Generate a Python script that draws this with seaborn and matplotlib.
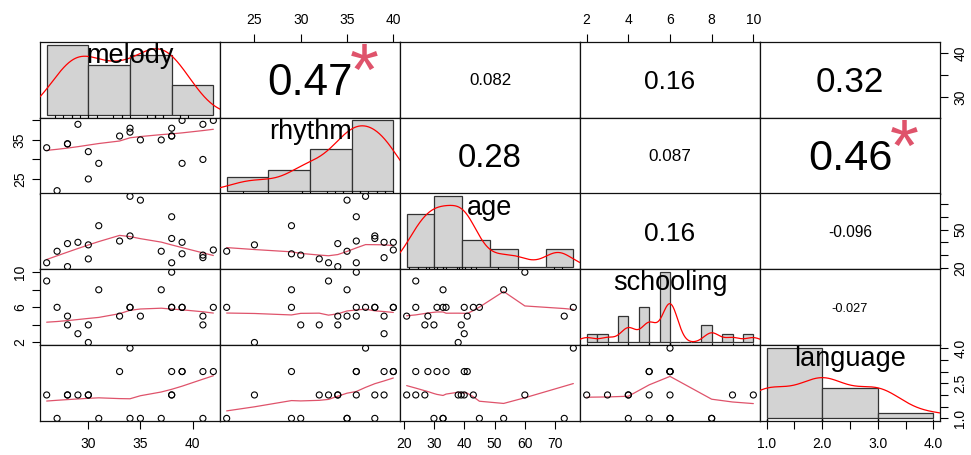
import numpy as np
import pandas as pd
import matplotlib
matplotlib.use("Agg")
import matplotlib.pyplot as plt
import seaborn as sns
from matplotlib.textpath import TextPath
from matplotlib.font_manager import FontProperties

# ---------------- data ----------------
variables = ["melody", "rhythm", "age", "schooling", "language"]
melody    = [26, 27, 28, 28, 29, 30, 30, 31, 33, 34, 34, 35, 37, 38, 38, 38, 39, 39, 41, 41, 42]
rhythm    = [33, 22, 34, 34, 39, 32, 25, 29, 36, 37, 38, 35, 35, 38, 36, 36, 40, 29, 39, 30, 40]
age       = [24, 33, 39, 21, 40, 27, 38, 53, 41, 76, 45, 73, 33, 43, 60, 24, 40, 31, 28, 30, 34]
schooling = [9, 6, 4, 5, 3, 4, 2, 8, 5, 6, 6, 5, 8, 6, 10, 6, 6, 6, 5, 4, 6]
language  = [2, 1, 2, 2, 2, 2, 2, 1, 3, 4, 1, 1, 1, 2, 2, 3, 3, 3, 3, 1, 3]

melody_breaks    = [25, 30, 35, 40, 45]
rhythm_breaks    = [20, 25, 30, 35, 40]
age_breaks       = [20, 30, 40, 50, 60, 70, 80]
schooling_breaks = [2.0, 2.5, 3.0, 3.5, 4.0, 4.5, 5.0, 5.5, 6.0, 6.5, 7.0, 7.5, 8.0, 8.5, 9.0, 9.5, 10.0]
language_breaks  = [1, 2, 3, 4]

cor_pairs  = [(0, 1), (0, 2), (0, 3), (0, 4), (1, 2), (1, 3), (1, 4), (2, 3), (2, 4), (3, 4)]
cor_labels = ["0.47", "0.082", "0.16", "0.32", "0.28", "0.087", "0.46", "0.16", "-0.096", "-0.027"]
cor_stars  = ["*", "", "", "", "", "", "*", "", "", ""]

melody_ticks    = [30, 35, 40]
rhythm_ticks    = [25, 30, 35, 40]
age_ticks       = [20, 30, 40, 50, 60, 70]
schooling_ticks = [2, 4, 6, 8, 10]
language_ticks  = [1.0, 1.5, 2.0, 2.5, 3.0, 3.5, 4.0]

bottom_labels = {0: ["30", "35", "40"],
                 2: ["20", "30", "40", "50", "60", "70"],
                 4: ["1.0", "", "2.0", "", "3.0", "", "4.0"]}
top_labels = {1: ["25", "30", "35", "40"],
              3: ["2", "4", "6", "8", "10"]}
right_labels = {0: ["30", "", "40"],
                2: ["20", "", "", "50", "", ""],
                4: ["1.0", "", "", "2.5", "", "", "4.0"]}
left_labels = {1: ["25", "", "35", ""],
               3: ["2", "", "6", "", "10"]}

df = pd.DataFrame({"melody": melody, "rhythm": rhythm, "age": age,
                   "schooling": schooling, "language": language})
breaks = {"melody": melody_breaks, "rhythm": rhythm_breaks, "age": age_breaks,
          "schooling": schooling_breaks, "language": language_breaks}
ticks = {"melody": melody_ticks, "rhythm": rhythm_ticks, "age": age_ticks,
         "schooling": schooling_ticks, "language": language_ticks}

# ---------------- style ----------------
sns.set_style("white")
plt.rcParams["font.family"] = ["Liberation Sans", "DejaVu Sans"]
FP = FontProperties(family="Liberation Sans")

FIG_W, FIG_H, DPI = 971, 455, 100
P_LEFT, P_TOP, P_W, P_H = 40.0, 41.7, 180.0, 75.9
SMOOTH_COL = "#DF536B"
AX_FS = 10
LAB_FS = 19.5

fig = plt.figure(figsize=(FIG_W / DPI, FIG_H / DPI), dpi=DPI)
fig.patch.set_facecolor("white")
renderer = fig.canvas.get_renderer()


def ext_lim(v):
    lo, hi = float(np.min(v)), float(np.max(v))
    d = 0.04 * (hi - lo)
    return lo - d, hi + d


def lowess(x, y, f=2 / 3, nsteps=3):
    x = np.asarray(x, float)
    y = np.asarray(y, float)
    o = np.argsort(x, kind="mergesort")
    x, y = x[o], y[o]
    n = len(x)
    ns = max(2, min(n, int(f * n + 1e-7)))
    delta = 0.01 * (x[-1] - x[0])
    rw = np.ones(n)
    ys = np.zeros(n)
    rng = x[-1] - x[0]

    def lowest(xs, nleft, nright, userw):
        h = max(xs - x[nleft], x[nright] - xs)
        h9, h1 = 0.999 * h, 0.001 * h
        w = np.zeros(n)
        a = 0.0
        j = nleft
        while j < n:
            r = abs(x[j] - xs)
            if r <= h9:
                w[j] = 1.0 if r <= h1 else (1 - (r / h) ** 3) ** 3
                if userw:
                    w[j] *= rw[j]
                a += w[j]
            elif x[j] > xs:
                break
            j += 1
        nrt = j - 1
        if a <= 0:
            return None
        idx = np.arange(nleft, nrt + 1)
        ww = w[idx] / a
        if h > 0:
            aa = np.sum(ww * x[idx])
            b = xs - aa
            c = np.sum(ww * (x[idx] - aa) ** 2)
            if np.sqrt(c) > 0.001 * rng:
                b /= c
                ww = ww * (b * (x[idx] - aa) + 1.0)
        return float(np.sum(ww * y[idx]))

    it = 1
    while it <= nsteps + 1:
        nleft, nright, last, i = 0, ns - 1, -1, 0
        while True:
            if nright < n - 1:
                d1 = x[i] - x[nleft]
                d2 = x[nright + 1] - x[i]
                if d1 > d2:
                    nleft += 1
                    nright += 1
                    continue
            v = lowest(x[i], nleft, nright, it > 1)
            ys[i] = y[i] if v is None else v
            if last < i - 1:
                denom = x[i] - x[last]
                for j in range(last + 1, i):
                    al = (x[j] - x[last]) / denom
                    ys[j] = al * ys[i] + (1 - al) * ys[last]
            last = i
            cut = x[last] + delta
            i = last + 1
            while i < n:
                if x[i] > cut:
                    break
                if x[i] == x[last]:
                    ys[i] = ys[last]
                    last = i
                i += 1
            i = max(last + 1, i - 1)
            if last >= n - 1:
                break
        res = y - ys
        sc = np.mean(np.abs(res))
        if it > nsteps:
            break
        cmad = 6.0 * np.median(np.abs(res))
        if cmad < 1e-7 * sc:
            break
        r = np.abs(res)
        rw = np.where(r <= 0.001 * cmad, 1.0,
                      np.where(r <= 0.999 * cmad, (1 - (r / cmad) ** 2) ** 2, 0.0))
        it += 1
    return x, ys


def panel_rect(i, j):
    x0 = (P_LEFT + j * P_W) / FIG_W
    y0 = 1 - (P_TOP + (i + 1) * P_H) / FIG_H
    return [x0, y0, P_W / FIG_W, P_H / FIG_H]


axes = [[None] * 5 for _ in range(5)]
for i, vy in enumerate(variables):
    for j, vx in enumerate(variables):
        ax = fig.add_axes(panel_rect(i, j))
        axes[i][j] = ax
        ax.set_xlim(ext_lim(df[vx]))
        ax.set_ylim(ext_lim(df[vy]))
        ax.set_xticks([])
        ax.set_yticks([])
        ax.set_facecolor("white")
        for s in ax.spines.values():
            s.set_linewidth(0.9)
            s.set_color("#111111")
            s.set_visible(True)

        if i > j:
            sns.scatterplot(x=df[vx], y=df[vy], ax=ax, marker="o", s=19,
                            facecolor="none", edgecolor="black", linewidth=0.8,
                            zorder=3)
            lx, ly = lowess(df[vx], df[vy])
            sns.lineplot(x=lx, y=ly, ax=ax, color=SMOOTH_COL, lw=0.9,
                         sort=False, estimator=None, zorder=2)
            ax.set_xlabel("")
            ax.set_ylabel("")
        elif i == j:
            hax = fig.add_axes(panel_rect(i, j), frameon=False)
            vals = np.asarray(df[vx], float)
            br = breaks[vx]
            # R histograms are right-closed (include.lowest)
            vals_h = np.where(vals > br[0], vals - 1e-9, vals)
            sns.histplot(x=vals_h, bins=br, stat="density", ax=hax,
                         color="#D3D3D3", edgecolor="#333333", linewidth=0.9,
                         alpha=1.0, zorder=2)
            ymax = max(p.get_height() for p in hax.patches)
            sd = np.std(vals, ddof=1)
            iqr = np.percentile(vals, 75) - np.percentile(vals, 25)
            bw = 0.9 * min(sd, iqr / 1.34) * len(vals) ** (-0.2)
            sns.kdeplot(x=vals, ax=hax, bw_method=bw / sd, cut=3, gridsize=512,
                        color="red", lw=0.9, zorder=3)
            hax.vlines(vals, 0, 0.03, transform=hax.get_xaxis_transform(),
                       color="black", lw=0.8, zorder=3)
            hax.set_xlim(ext_lim(br))
            hax.set_ylim(-0.04 * ymax, 1.04 * ymax)
            hax.set_xticks([])
            hax.set_yticks([])
            hax.set_xlabel("")
            hax.set_ylabel("")
            hax.text(0.5, 0.723, vx, transform=hax.transAxes, ha="center",
                     va="baseline", fontsize=LAB_FS, color="black", zorder=5)

# correlation panels
for (i, j), lab, star in zip(cor_pairs, cor_labels, cor_stars):
    ax = axes[i][j]
    r = float(lab)
    probe = ax.text(0, 0, lab, fontsize=10)
    w = probe.get_window_extent(renderer=renderer).width
    probe.remove()
    fs_base = 10 * 0.8 * P_W / w
    fs = fs_base * (abs(r) + 0.3) / 1.3
    ext = TextPath((0, 0), lab, size=fs, prop=FP).get_extents()
    ax.annotate(lab, xy=(0.5, 0.5), xycoords="axes fraction",
                xytext=(0, -(ext.y0 + ext.y1) / 2), textcoords="offset points",
                ha="center", va="baseline", fontsize=fs, color="black")
    if star:
        se = TextPath((0, 0), star, size=fs_base, prop=FP).get_extents()
        ax.annotate(star, xy=(0.8, 0.8), xycoords="axes fraction",
                    xytext=(0, -(se.y0 + se.y1) / 2), textcoords="offset points",
                    ha="center", va="baseline", fontsize=fs_base, color=SMOOTH_COL)

# outer axes
for j, labs in bottom_labels.items():
    ax = axes[4][j]
    ax.set_xticks(ticks[variables[j]])
    ax.set_xticklabels(labs)
    ax.tick_params(axis="x", bottom=True, top=False, labelbottom=True,
                   direction="out", length=5.5, width=0.8, pad=6,
                   labelsize=AX_FS, colors="black")
for j, labs in top_labels.items():
    ax = axes[0][j]
    ax.set_xticks(ticks[variables[j]])
    ax.set_xticklabels(labs)
    ax.tick_params(axis="x", bottom=False, top=True, labelbottom=False,
                   labeltop=True, direction="out", length=5.5, width=0.8,
                   pad=5, labelsize=AX_FS, colors="black")
for i, labs in right_labels.items():
    ax = axes[i][4]
    ax.set_yticks(ticks[variables[i]])
    ax.set_yticklabels(labs, rotation=90, va="center")
    ax.tick_params(axis="y", left=False, right=True, labelleft=False,
                   labelright=True, direction="out", length=5.5, width=0.8,
                   pad=4, labelsize=AX_FS, colors="black")
for i, labs in left_labels.items():
    ax = axes[i][0]
    ax.set_yticks(ticks[variables[i]])
    ax.set_yticklabels(labs, rotation=90, va="center")
    ax.tick_params(axis="y", left=True, right=False, labelleft=True,
                   direction="out", length=5.5, width=0.8, pad=4,
                   labelsize=AX_FS, colors="black")

fig.savefig("out.png", dpi=DPI, facecolor="white")
